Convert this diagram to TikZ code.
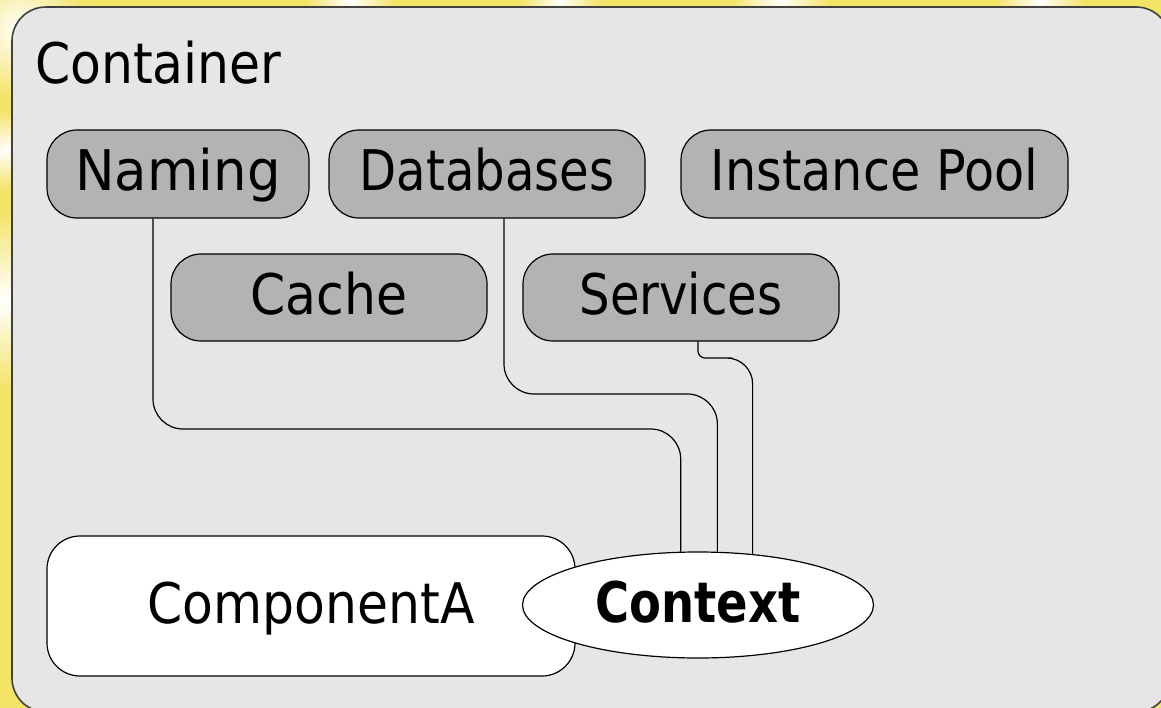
\documentclass[tikz,border=0pt]{standalone}
\usepackage{fontspec}
\setmainfont{DejaVu Sans}[FakeStretch=0.9]
\newfontfamily\fnarrow{DejaVu Sans}[FakeStretch=0.86]
\newfontfamily\fpool{DejaVu Sans}[FakeStretch=0.88]
\newfontfamily\fwide{DejaVu Sans}[FakeStretch=0.945]
\newfontfamily\fctx{DejaVu Sans}[FakeStretch=0.83]
\usetikzlibrary{shapes.geometric}
\definecolor{bgyellow}{RGB}{243,227,102}
\definecolor{contfill}{RGB}{230,230,230}
\definecolor{boxfill}{RGB}{179,179,179}
\begin{document}
\begin{tikzpicture}[x=1pt,y=-1pt,
  every node/.style={font=\fontsize{56}{60}\selectfont, inner sep=0pt},
  lbl/.style={text height=42pt, text depth=8pt},
  svc/.style={lbl, draw=black, line width=1.2pt, fill=boxfill, rounded corners=30pt, minimum height=88pt},
  comp/.style={lbl, draw=black, line width=1.2pt, fill=white, rounded corners=33pt},
  ctxshape/.style={lbl, ellipse, draw=black, line width=1.2pt, fill=white, minimum width=351pt, minimum height=106pt},
  conn/.style={draw=black, line width=1.2pt, rounded corners=30pt},
  blot/.style={inner color=white, outer color=bgyellow}]
\clip (0,0) rectangle (1161,708);
% background
\fill[bgyellow] (0,0) rectangle (1161,708);
\shade[blot] (20,30) circle (70);
\shade[blot] (5,300) circle (90);
\shade[blot] (350,0) circle (45);
\shade[blot] (560,0) circle (40);
\shade[blot] (780,0) circle (50);
\shade[blot] (1040,0) circle (45);
\shade[blot] (5,150) circle (40);
% container
\draw[line width=1.6pt, draw=black!75, fill=contfill, rounded corners=34pt] (12,7) rectangle (1170,712);
\node[anchor=base west] (ctitle) at (35,84) {Container};
% service boxes
\node[svc, minimum width=262pt] (naming) at (178,174) {\fwide Naming};
\node[svc, minimum width=316pt] (db) at (487,174) {\fnarrow Databases};
\node[svc, minimum width=387pt] (pool) at (874.5,174) {\fpool Instance Pool};
\node[svc, minimum width=316pt, minimum height=87pt] (cache) at (329,297.5) {Cache};
\node[svc, minimum width=316pt, minimum height=87pt] (services) at (681,297.5) {\fnarrow Services};
% component and context
\node[comp, minimum width=528pt, minimum height=140pt] (compA) at (311,606) {ComponentA};
\node[ctxshape] (ctx) at (698,605) {\fctx\bfseries Context};
% connectors
\draw[conn] ([xshift=-25pt]naming.south) |- (600,429) -| (ctx.108.2);
\draw[conn] ([xshift=17pt]db.south) |- (640,394) -| (ctx.70.5);
\draw[conn] ([xshift=17pt]services.south) [rounded corners=7pt] |- (725,358) [rounded corners=26pt] -| (ctx.43.8);
\end{tikzpicture}
\end{document}
